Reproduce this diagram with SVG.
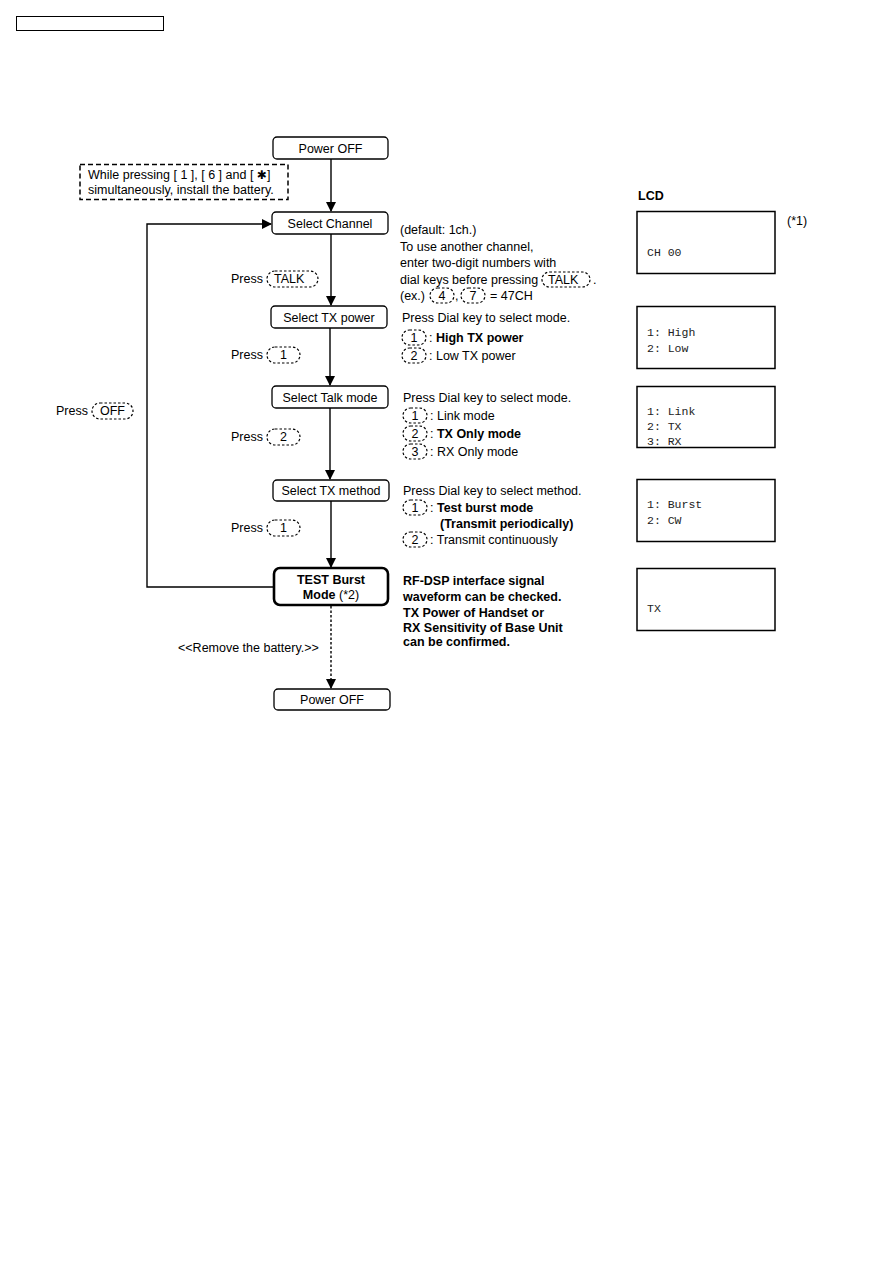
<svg xmlns="http://www.w3.org/2000/svg" width="893" height="1263" viewBox="0 0 893 1263">
<defs>
<marker id="ah" viewBox="0 0 10 10" refX="9" refY="5" markerWidth="10" markerHeight="10" markerUnits="userSpaceOnUse" orient="auto"><path d="M0,0 L10,5 L0,10 z" fill="#000"/></marker>
<style>
text{font-family:"Liberation Sans",Arial,sans-serif;font-size:12.5px;fill:#000}
.b{font-weight:bold}
.node{fill:#fff;stroke:#000;stroke-width:1.3}
.thick{fill:#fff;stroke:#000;stroke-width:2.6}
.c{text-anchor:middle}
.key{fill:none;stroke:#000;stroke-width:1.2;stroke-dasharray:2.5,2}
.lcd{fill:#fff;stroke:#000;stroke-width:1.5}
.mono{font-family:"Liberation Mono","Courier New",monospace;font-size:11.5px;fill:#222}
.conn{fill:none;stroke:#000;stroke-width:1.4}
</style>
</defs>
<rect x="16.5" y="16.5" width="147" height="14" fill="none" stroke="#000" stroke-width="1"/>

<g id="connectors">
<line class="conn" x1="331" y1="159" x2="331" y2="211" marker-end="url(#ah)"/>
<line class="conn" x1="331" y1="234" x2="331" y2="305" marker-end="url(#ah)"/>
<line class="conn" x1="330" y1="328" x2="330" y2="385" marker-end="url(#ah)"/>
<line class="conn" x1="330" y1="408" x2="330" y2="479" marker-end="url(#ah)"/>
<line class="conn" x1="331" y1="501" x2="331" y2="567" marker-end="url(#ah)"/>
<polyline class="conn" points="274,587 147,587 147,224 271,224" marker-end="url(#ah)"/>
<line class="conn" x1="331" y1="606" x2="331" y2="688" stroke-dasharray="2.5,2" marker-end="url(#ah)"/>
</g>

<g id="n-power-off-1"><rect class="node" x="273" y="137" width="115" height="22" rx="4"/><text class="c" x="330.5" y="152.5">Power OFF</text></g>
<g id="n-note"><rect x="80" y="164.5" width="208" height="35" fill="#fff" stroke="#000" stroke-width="1.5" stroke-dasharray="5,3"/>
<text x="88" y="179">While pressing [ 1 ], [ 6 ] and [ <tspan font-family="DejaVu Sans,sans-serif" font-size="12">✱</tspan>]</text><text x="88" y="194">simultaneously, install the battery.</text></g>
<g id="n-select-channel"><rect class="node" x="272" y="212" width="116" height="22" rx="4"/><text class="c" x="330" y="227.5">Select Channel</text></g>
<g id="n-select-tx-power"><rect class="node" x="271" y="306" width="116" height="22" rx="4"/><text class="c" x="329" y="321.5">Select TX power</text></g>
<g id="n-select-talk-mode"><rect class="node" x="272" y="386" width="116" height="22" rx="4"/><text class="c" x="330" y="401.5">Select Talk mode</text></g>
<g id="n-select-tx-method"><rect class="node" x="273" y="480" width="116" height="21" rx="4"/><text class="c" x="331" y="495">Select TX method</text></g>
<g id="n-test-burst"><rect class="thick" x="274" y="568" width="114" height="37" rx="6"/><text class="c b" x="331" y="584">TEST Burst</text><text class="c" x="331" y="599"><tspan class="b">Mode</tspan> (*2)</text></g>
<g id="n-power-off-2"><rect class="node" x="274" y="689" width="116" height="21" rx="4"/><text class="c" x="332" y="704">Power OFF</text></g>

<g id="labels">
<text x="231" y="283">Press</text><rect class="key" x="267" y="271" width="51" height="16" rx="8"/><text x="274" y="283">TALK</text>
<text x="231" y="359">Press</text><rect class="key" x="267" y="347" width="33" height="16" rx="8"/><text class="c" x="283.5" y="359">1</text>
<text x="231" y="441">Press</text><rect class="key" x="267" y="429" width="33" height="16" rx="8"/><text class="c" x="283.5" y="441">2</text>
<text x="231" y="532">Press</text><rect class="key" x="267" y="520" width="33" height="16" rx="8"/><text class="c" x="283.5" y="532">1</text>
<text x="56" y="415">Press</text><rect class="key" x="92" y="403" width="41" height="16" rx="8"/><text class="c" x="112.5" y="415">OFF</text>
<text x="178" y="652">&lt;&lt;Remove the battery.&gt;&gt;</text>
</g>

<g id="desc-channel">
<text x="400" y="234">(default: 1ch.)</text>
<text x="400" y="251">To use another channel,</text>
<text x="400" y="267">enter two-digit numbers with</text>
<text x="400" y="284">dial keys before pressing</text><rect class="key" x="542" y="272" width="48" height="15" rx="7.5"/><text x="548" y="284">TALK</text><text x="593" y="284">.</text>
<text x="400" y="300">(ex.)</text><rect class="key" x="430" y="288" width="24" height="15" rx="7.5"/><text class="c" x="442" y="300">4</text><text x="455" y="300">,</text>
<rect class="key" x="461" y="288" width="24" height="15" rx="7.5"/><text class="c" x="473" y="300">7</text><text x="490" y="300">= 47CH</text>
</g>

<g id="desc-tx-power">
<text x="402" y="322">Press Dial key to select mode.</text>
<rect class="key" x="402" y="330" width="24" height="15" rx="7.5"/><text class="c" x="414" y="342">1</text><text x="429" y="342">: <tspan class="b">High TX power</tspan></text>
<rect class="key" x="402" y="348" width="24" height="15" rx="7.5"/><text class="c" x="414" y="360">2</text><text x="429" y="360">: Low TX power</text>
</g>

<g id="desc-talk-mode">
<text x="403" y="402">Press Dial key to select mode.</text>
<rect class="key" x="403" y="408" width="24" height="15" rx="7.5"/><text class="c" x="415" y="420">1</text><text x="430" y="420">: Link mode</text>
<rect class="key" x="403" y="426" width="24" height="15" rx="7.5"/><text class="c" x="415" y="438">2</text><text x="430" y="438">: <tspan class="b">TX Only mode</tspan></text>
<rect class="key" x="403" y="444" width="24" height="15" rx="7.5"/><text class="c" x="415" y="456">3</text><text x="430" y="456">: RX Only mode</text>
</g>

<g id="desc-tx-method">
<text x="403" y="495">Press Dial key to select method.</text>
<rect class="key" x="403" y="500" width="24" height="15" rx="7.5"/><text class="c" x="415" y="512">1</text><text x="430" y="512">: <tspan class="b">Test burst mode</tspan></text>
<text class="b" x="440" y="528">(Transmit periodically)</text>
<rect class="key" x="403" y="532" width="24" height="15" rx="7.5"/><text class="c" x="415" y="544">2</text><text x="430" y="544">: Transmit continuously</text>
</g>

<g id="desc-test-burst">
<text class="b" x="403" y="585">RF-DSP interface signal</text>
<text class="b" x="403" y="601">waveform can be checked.</text>
<text class="b" x="403" y="617">TX Power of Handset or</text>
<text class="b" x="403" y="632">RX Sensitivity of Base Unit</text>
<text class="b" x="403" y="646">can be confirmed.</text>
</g>

<g id="lcd">
<text class="b" x="638" y="200">LCD</text>
<text x="787" y="225">(*1)</text>
<rect class="lcd" x="637" y="211.5" width="138" height="62"/><text class="mono" x="647" y="256">CH 00</text>
<rect class="lcd" x="637" y="306.5" width="138" height="62"/><text class="mono" x="647" y="336">1: High</text><text class="mono" x="647" y="352">2: Low</text>
<rect class="lcd" x="637" y="386.5" width="138" height="61"/><text class="mono" x="647" y="415">1: Link</text><text class="mono" x="647" y="430">2: TX</text><text class="mono" x="647" y="445">3: RX</text>
<rect class="lcd" x="637" y="479.5" width="138" height="62"/><text class="mono" x="647" y="508">1: Burst</text><text class="mono" x="647" y="524">2: CW</text>
<rect class="lcd" x="637" y="568.5" width="138" height="62"/><text class="mono" x="647" y="612">TX</text>
</g>
</svg>
